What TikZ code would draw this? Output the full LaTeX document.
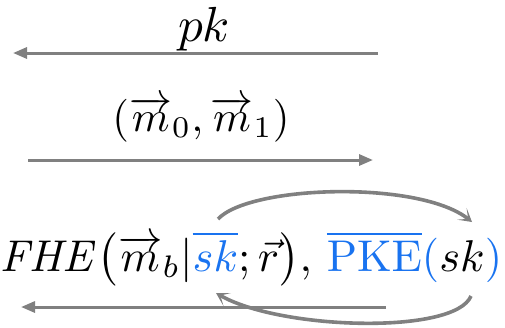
\documentclass[tikz,border=0pt]{standalone}
\usepackage{amsmath}
\usetikzlibrary{arrows.meta}
\definecolor{arr}{RGB}{128,128,128}
\definecolor{kblue}{RGB}{25,115,240}
\begin{document}
\begin{tikzpicture}[x=1pt,y=-1pt,
  msg/.style={draw=arr, line width=3pt, -{Triangle[length=14pt,width=11pt]}},
  loop/.style={draw=arr, line width=3.6pt, -{Stealth[length=13pt,width=15pt,inset=8pt]}},
  lbl/.style={inner sep=0pt, anchor=base}]
\useasboundingbox (0,0) rectangle (505,327);
% labels
\node[lbl] (pk) at (204,41) {\resizebox{52pt}{!}{$pk$}};
\node[lbl] (mm) at (201,131) {\resizebox{177pt}{!}{$(\overrightarrow{m}_0,\overrightarrow{m}_1)$}};
\node[lbl] (fhe) at (251,271) {\resizebox{502pt}{!}{$\mathit{FHE}\bigl(\overrightarrow{m}_b|\textcolor{kblue}{\overline{sk}};\vec{r}\bigr),\,\textcolor{kblue}{\overline{\mathrm{PKE}}(}sk\textcolor{kblue}{)}$}};
% message arrows
\coordinate (a1s) at (378,53);
\coordinate (a1e) at (13,53);
\coordinate (a2s) at (28,160);
\coordinate (a2e) at (373,160);
\coordinate (a3s) at (386,307);
\coordinate (a3e) at (21,307);
\draw[msg] (a1s) -- (a1e);
\draw[msg] (a2s) -- (a2e);
\draw[msg] (a3s) -- (a3e);
% loop arrows
\coordinate (c1s) at (218,219);
\coordinate (c1e) at (472,222);
\coordinate (c2s) at (471,296);
\coordinate (c2e) at (216,293);
\draw[loop] (c1s) .. controls (250,185) and (420,180) .. (c1e);
\draw[loop] (c2s) .. controls (455,335) and (280,330) .. (c2e);
\end{tikzpicture}
\end{document}
